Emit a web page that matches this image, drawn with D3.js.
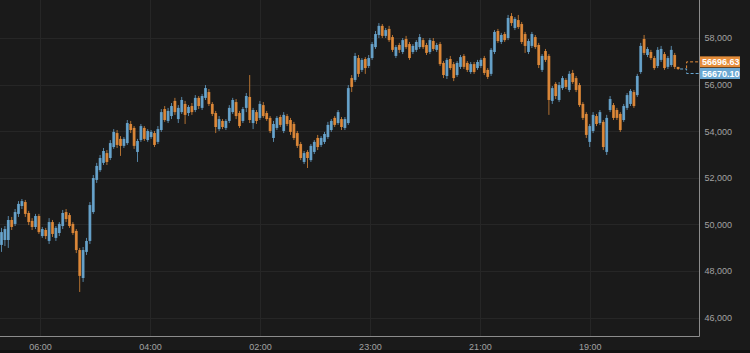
<!DOCTYPE html>
<html>
<head>
<meta charset="utf-8">
<script src="https://cdn.jsdelivr.net/npm/d3@7"></script>
<style>
  html, body { margin: 0; padding: 0; background: #1a1a1a; }
  svg { display: block; }
</style>
</head>
<body>
<div id="chart"></div>
<script>
const WIDTH = 750
const HEIGHT = 353
const PLOT = { LEFT: 0, TOP: 0, RIGHT: 699.5, BOTTOM: 336.5 }

const BLUE = "#6aa8d3"
const ORANGE = "#e58d3a"

// candles, left to right as drawn
const opens = [
  49120, 49330, 49330, 50190, 50020, 50450, 50790, 50960, 50490, 50150,
  49890, 50360, 49500, 49760, 49290, 50100, 49420, 49630, 49930, 50530,
  50400, 50020, 49720, 48900, 47700, 48820, 49290, 50530, 51910, 52330,
  52640, 53060, 52850, 53320, 53920, 53670, 53370, 53490, 54310, 54140,
  53110, 53620, 54140, 53620, 53750, 53920, 53540, 54050, 54950, 54440,
  54650, 55300, 54520, 54820, 55170, 54780, 55080, 54910, 55430, 55000,
  55430, 55680, 55170, 54780, 54090, 54440, 54140, 54440, 54820, 55250,
  54780, 54440, 55000, 55470, 54350, 54820, 54570, 55120, 54780, 54570,
  53710, 54140, 54610, 54010, 54650, 54480, 54310, 53920, 53450, 52680,
  53110, 52760, 53110, 53710, 53410, 53540, 53750, 54050, 54570, 54350,
  54520, 54140, 54350, 56280, 56200, 57140, 56630, 57100, 56800, 57140,
  57610, 58130, 58520, 58090, 58390, 58040, 57230, 57700, 57400, 57960,
  57740, 57400, 57490, 57610, 57910, 57700, 57400, 57870, 57490, 57740,
  56930, 56370, 57100, 56880, 56410, 56760, 57230, 56930, 56540, 56880,
  56710, 56800, 57140, 56630, 56460, 57400, 58300, 57830, 58170, 58000,
  58940, 58430, 58770, 58600, 58170, 57400, 57660, 58040, 57700, 56630,
  57440, 57230, 55300, 56030, 55340, 55850, 56200, 55770, 56500, 56280,
  55980, 55170, 54740, 53540, 54010, 54650, 54350, 54400, 53110, 54910,
  55120, 54910, 54740, 54480, 55000, 55170, 55680, 55550, 56540, 57960,
  57270, 57400, 57140, 56800, 57060, 57310, 56760, 56840, 57270, 56760
]
const highs = [
  49850, 49930, 50360, 50320, 50660, 51000, 51090, 51050, 50580, 50270,
  50450, 50450, 49890, 49850, 50270, 50190, 49930, 50100, 50620, 50660,
  50490, 50100, 49800, 48990, 49030, 49420, 50960, 52120, 52640, 52980,
  53280, 53190, 53620, 54090, 54050, 53790, 53750, 54480, 54440, 54220,
  53670, 54310, 54220, 54090, 54050, 54010, 54220, 54950, 55080, 55000,
  55210, 55430, 55120, 55470, 55300, 55120, 55210, 55550, 55510, 55600,
  55980, 55810, 55250, 54870, 54650, 54520, 54520, 55120, 55430, 55380,
  54870, 55040, 55640, 56410, 55000, 54910, 55300, 55250, 54870, 54650,
  54440, 54650, 54700, 54820, 54740, 54570, 54400, 54010, 53540, 53150,
  53190, 53450, 53620, 53840, 53790, 53970, 54400, 54520, 54650, 54910,
  54610, 54610, 55980, 56410, 57360, 57270, 57140, 57180, 57270, 57830,
  58300, 58640, 58600, 58430, 58520, 58130, 57700, 57790, 58000, 58090,
  57830, 57740, 57910, 58170, 58000, 57790, 58000, 58000, 57790, 57830,
  57010, 57140, 57230, 56970, 57010, 57270, 57310, 57010, 56970, 56970,
  57060, 57140, 57230, 56710, 57570, 58340, 58390, 58220, 58260, 58990,
  59070, 58900, 58990, 58690, 58260, 57960, 58260, 58130, 57790, 57310,
  57530, 57310, 55940, 56110, 56110, 56370, 56280, 56580, 56630, 56370,
  56070, 55250, 54820, 54310, 54820, 54740, 54910, 54480, 54700, 55510,
  55210, 55000, 54820, 55170, 55640, 55810, 55770, 56460, 57790, 58130,
  57610, 57490, 57230, 57610, 57660, 57400, 57230, 57660, 57360, 56760
]
const lows = [
  48820, 49070, 48990, 49760, 49930, 50320, 50660, 50320, 49970, 49760,
  49800, 49590, 49420, 49370, 49160, 49460, 49290, 49500, 49800, 50100,
  49850, 49550, 48770, 47100, 47530, 48690, 49160, 50450, 51780, 52250,
  52550, 52550, 52760, 53240, 53280, 52940, 53280, 53410, 53920, 53240,
  52680, 53540, 53580, 53540, 53670, 53320, 53450, 53970, 54400, 54350,
  54520, 54700, 54350, 54740, 54310, 54650, 54700, 54820, 54950, 54910,
  55340, 55080, 54650, 53920, 54010, 54090, 54050, 54350, 54740, 54520,
  54140, 54350, 54820, 54350, 54090, 54310, 54480, 54570, 54440, 53920,
  53540, 54050, 54180, 53920, 54220, 53840, 53620, 53280, 52760, 52590,
  52420, 52680, 53020, 53190, 53320, 53450, 53670, 53970, 54180, 54270,
  54050, 54050, 54270, 55680, 56110, 56330, 56540, 56460, 56710, 57060,
  57530, 58000, 58000, 58000, 57830, 57400, 57140, 57360, 57310, 57530,
  57060, 57310, 57400, 57530, 57530, 57270, 57310, 57440, 57400, 56800,
  56280, 56240, 56630, 56150, 56330, 56670, 56670, 56540, 56460, 56460,
  56630, 56710, 56410, 56240, 56370, 57310, 57790, 57740, 57830, 57910,
  58520, 58340, 58390, 57740, 57360, 57310, 57570, 57530, 56710, 56540,
  56970, 54700, 55170, 55380, 55250, 55770, 55810, 55680, 56030, 55680,
  55040, 54480, 53710, 53320, 53920, 54220, 54270, 53190, 52980, 54820,
  54480, 54480, 53970, 54400, 54910, 55080, 55000, 55470, 56460, 57270,
  57180, 57060, 56630, 56710, 56970, 56630, 56670, 56760, 56670, 56630
]
const closes = [
  49670, 49800, 50190, 49890, 50530, 50880, 51000, 50450, 50100, 49890,
  50360, 49670, 49800, 49500, 50100, 49590, 49850, 50020, 50490, 50230,
  49930, 49630, 48900, 47790, 48900, 49290, 50830, 51990, 52510, 52850,
  53150, 52680, 53490, 53970, 53410, 53370, 53670, 54350, 54050, 53370,
  53580, 54220, 53670, 54010, 53970, 53410, 54090, 54820, 54480, 54870,
  55080, 54820, 55000, 55340, 54700, 55040, 54820, 55430, 55080, 55510,
  55850, 55170, 54740, 54180, 54520, 54180, 54440, 55000, 55340, 54650,
  54220, 54950, 55510, 54480, 54910, 54440, 55170, 54650, 54520, 54010,
  54310, 54570, 54270, 54700, 54310, 53970, 53710, 53370, 52850, 53060,
  52850, 53370, 53540, 53320, 53710, 53880, 54270, 54440, 54270, 54820,
  54180, 54520, 55850, 55900, 57230, 56460, 57060, 56710, 57140, 57740,
  58170, 58520, 58090, 58340, 57910, 57490, 57610, 57490, 57910, 57610,
  57140, 57660, 57830, 58040, 57610, 57360, 57910, 57530, 57700, 56880,
  56410, 57060, 56710, 56280, 56930, 57180, 56760, 56630, 56880, 56540,
  56970, 57060, 56500, 56330, 57490, 58260, 57870, 58130, 57910, 58860,
  58640, 58820, 58470, 57830, 57660, 57870, 58170, 57610, 56840, 57230,
  57060, 55340, 55850, 55510, 55980, 56280, 55900, 56460, 56110, 55770,
  55120, 54570, 53840, 54220, 54700, 54310, 54820, 53320, 54570, 55380,
  54570, 54570, 54050, 55080, 55550, 55730, 55080, 56370, 57660, 57360,
  57530, 57140, 56710, 57490, 57530, 56710, 57140, 57490, 56760, 56670
]

const yTicks = [46000, 48000, 50000, 52000, 54000, 56000, 58000]
// x ticks sit between candles, in candle-index units
const xTickAt = [11.3, 43.65, 76, 108.35, 140.7, 173.05]
const xTickLabels = ["06:00", "04:00", "02:00", "23:00", "21:00", "19:00"]

const lastPrices = [
  { value: 56696.63, color: ORANGE, shift: -6.5 },
  { value: 56670.10, color: BLUE, shift: 4.5 }
]

const candles = opens.map((o, i) => ({
  i, open: o, high: highs[i], low: lows[i], close: closes[i]
}))

const svg = d3.select("#chart")
  .append("svg")
  .attr("width", WIDTH)
  .attr("height", HEIGHT)
  .style("font-family", "'Liberation Sans', Arial, sans-serif")

svg.append("rect")
  .attr("width", WIDTH).attr("height", HEIGHT)
  .attr("fill", "#1a1a1a")
svg.append("rect")
  .attr("y", 350).attr("width", WIDTH).attr("height", 3)
  .attr("fill", "#121212")

const x = d3.scaleLinear().domain([0, candles.length - 1]).range([1.5, 678.1])
const y = d3.scaleLinear().domain([46000, 58000]).range([317.6, 38])

// grid
svg.append("g")
  .selectAll("line")
  .data(yTicks)
  .join("line")
  .attr("x1", PLOT.LEFT).attr("x2", PLOT.RIGHT)
  .attr("y1", d => Math.round(y(d)) + 0.5).attr("y2", d => Math.round(y(d)) + 0.5)
  .attr("stroke", "#262626")

svg.append("g")
  .selectAll("line")
  .data(xTickAt)
  .join("line")
  .attr("x1", d => Math.round(x(d)) + 0.5).attr("x2", d => Math.round(x(d)) + 0.5)
  .attr("y1", PLOT.TOP).attr("y2", PLOT.BOTTOM)
  .attr("stroke", "#262626")

svg.append("clipPath").attr("id", "plot-clip")
  .append("rect")
  .attr("x", PLOT.LEFT).attr("y", PLOT.TOP)
  .attr("width", PLOT.RIGHT - PLOT.LEFT).attr("height", PLOT.BOTTOM - PLOT.TOP)

const candleGroup = svg.append("g").attr("clip-path", "url(#plot-clip)")
const colorOf = d => d.close >= d.open ? BLUE : ORANGE

candleGroup.selectAll("line.wick")
  .data(candles)
  .join("line")
  .attr("class", "wick")
  .attr("x1", d => x(d.i)).attr("x2", d => x(d.i))
  .attr("y1", d => y(d.high)).attr("y2", d => y(d.low))
  .attr("stroke", colorOf)
  .attr("stroke-opacity", 0.75)
  .attr("stroke-width", 1)

const bodyW = 2.8
candleGroup.selectAll("rect.body")
  .data(candles)
  .join("rect")
  .attr("class", "body")
  .attr("x", d => x(d.i) - bodyW / 2)
  .attr("width", bodyW)
  .attr("y", d => y(Math.max(d.open, d.close)))
  .attr("height", d => Math.max(1, Math.abs(y(d.open) - y(d.close))))
  .attr("fill", colorOf)
  .attr("fill-opacity", 0.9)

// axes
const xAxis = d3.axisBottom(x)
  .tickValues(xTickAt)
  .tickFormat((d, i) => xTickLabels[i])
  .tickSize(0)
  .tickPadding(7)

svg.append("g")
  .attr("transform", `translate(0, ${PLOT.BOTTOM})`)
  .call(xAxis)
  .call(g => g.select(".domain").remove())
  .call(g => g.selectAll("text").attr("fill", "#a2a2a2").attr("font-size", 9)
    .attr("font-family", "'Liberation Sans', Arial, sans-serif"))

const yAxis = d3.axisRight(y)
  .tickValues(yTicks)
  .tickFormat(d3.format(","))
  .tickSize(0)
  .tickPadding(5)

svg.append("g")
  .attr("transform", `translate(${PLOT.RIGHT}, 0)`)
  .call(yAxis)
  .call(g => g.select(".domain").remove())
  .call(g => g.selectAll("text").attr("fill", "#a2a2a2").attr("font-size", 9)
    .attr("font-family", "'Liberation Sans', Arial, sans-serif"))

// frame: bottom and right edges
svg.append("path")
  .attr("d", `M${PLOT.LEFT},${PLOT.BOTTOM}H${PLOT.RIGHT}V${PLOT.TOP}`)
  .attr("fill", "none")
  .attr("stroke", "#8c8c8c")
  .attr("stroke-width", 1)

// last price markers
const lastX = x(candles.length - 1)
const bracketX = lastX + 8.5
lastPrices.forEach((p, k) => {
  const py = y(p.value)
  const ly = py + p.shift
  const path = k === 0
    ? `M${bracketX},${py}V${ly}H${PLOT.RIGHT}`
    : `M${lastX + 2},${py}H${bracketX}V${ly}H${PLOT.RIGHT}`
  svg.append("path")
    .attr("d", path)
    .attr("fill", "none")
    .attr("stroke", p.color)
    .attr("stroke-width", 1)
    .attr("stroke-dasharray", "3,2")
  svg.append("rect")
    .attr("x", PLOT.RIGHT + 0.5).attr("y", ly - 5.5)
    .attr("width", 40).attr("height", 11)
    .attr("fill", p.color)
  svg.append("text")
    .attr("x", PLOT.RIGHT + 2.5).attr("y", ly)
    .attr("dy", "0.35em")
    .attr("fill", "#ffffff")
    .attr("font-size", 9)
    .attr("font-weight", "bold")
    .text(p.value.toFixed(2))
})
</script>
</body>
</html>
